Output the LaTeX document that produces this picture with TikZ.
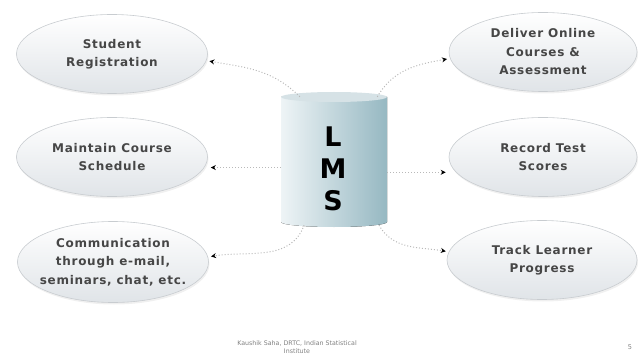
\documentclass[tikz,border=0pt]{standalone}
\usepackage{fontspec}
\setmainfont{DejaVu Sans}
\newfontfamily\bubfont[LetterSpace=6]{DejaVu Sans}
\usetikzlibrary{shapes.geometric,arrows.meta,shadows}
\definecolor{txt}{RGB}{70,70,70}
\definecolor{ellfill}{RGB}{224,228,232}
\definecolor{elldraw}{RGB}{200,204,208}
\definecolor{cylR}{RGB}{150,184,194}
\definecolor{cylL}{RGB}{238,244,246}
\definecolor{cylTop}{RGB}{214,226,230}
\definecolor{conn}{RGB}{185,185,185}
\tikzset{
  bubble/.style={ellipse, minimum width=191pt, minimum height=79pt, inner xsep=-12pt, inner ysep=-4pt,
    top color=white, bottom color=ellfill, draw=elldraw, line width=0.6pt,
    drop shadow={opacity=0.12, shadow xshift=1pt, shadow yshift=-2pt},
    font=\bubfont\bfseries\fontsize{12}{18.5}\selectfont, text=txt, align=center},
  link/.style={conn, line width=1pt, dotted, -{Stealth[black,length=5pt,width=5pt]}, shorten >=3pt}
}
\begin{document}
\begin{tikzpicture}[x=1pt,y=1pt]
\useasboundingbox (0,0) rectangle (644,359);
% cylinder
\fill[left color=cylL, right color=cylR] (281,262) -- (281,137) arc[start angle=180,end angle=360,x radius=53,y radius=5] -- (387,262) -- cycle;
\fill[cylTop] (334,262) ellipse[x radius=53, y radius=5];
\node[minimum width=106pt, minimum height=128pt, inner sep=0pt] (lms) at (334,198) {};
\node[font=\bfseries\fontsize{27}{32}\selectfont, align=center, text=black] (lmstext) at (333,190) {L\\M\\S};
% bubbles
\node[bubble] (l1) at (112,305) {Student\\Registration};
\node[bubble] (l2) at (112,202) {Maintain Course\\Schedule};
\node[bubble, minimum height=81pt] (l3) at (113,97) {Communication\\through e-mail,\\seminars, chat, etc.};
\node[bubble, minimum width=188pt] (r1) at (543,307) {Deliver Online\\Courses \&\\Assessment};
\node[bubble, minimum width=188pt] (r2) at (543,202) {Record Test\\Scores};
\node[bubble, minimum width=190pt] (r3) at (542,99) {Track Learner\\Progress};
% connectors
\draw[link] (lms.118) to[out=135, in=-10] (l1.-4);
\draw[link] (lms.187) -- (l2.east |- lms.187);
\draw[link] (lms.245) to[out=-110, in=10] (l3.3);
\draw[link] (lms.56) to[out=60, in=190] (r1.184);
\draw[link] (lms.348) -- (r2.west |- lms.348);
\draw[link] (lms.305) to[out=-60, in=170] (r3.175);
% footer
\node[font=\fontsize{6.3}{8.5}\selectfont, text=gray, align=center] (foot) at (297,12) {Kaushik Saha, DRTC, Indian Statistical\\Institute};
\node[font=\fontsize{6.5}{8}\selectfont, text=gray] (pg) at (630,12) {5};
\end{tikzpicture}
\end{document}
